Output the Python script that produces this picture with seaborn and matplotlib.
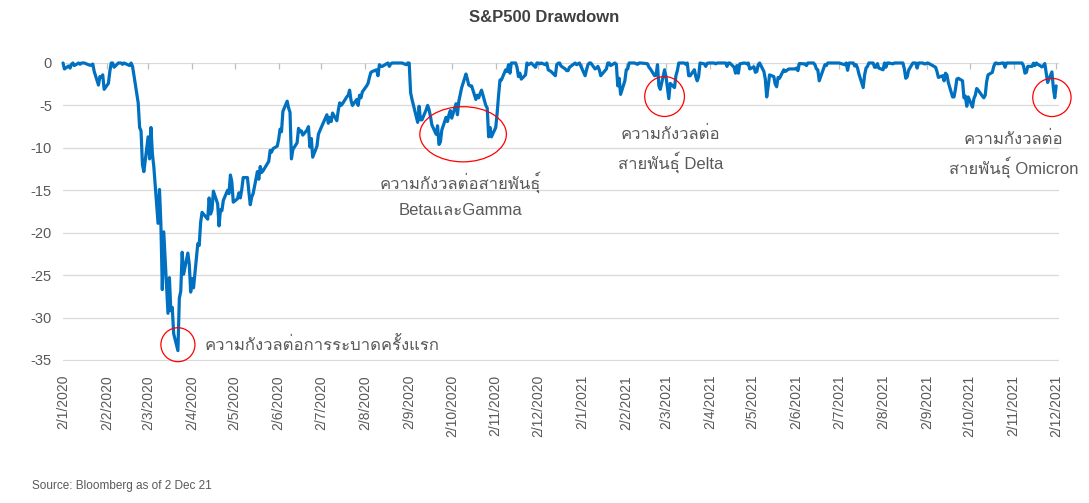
import numpy as np
import pandas as pd
import matplotlib
matplotlib.use("Agg")
import matplotlib.pyplot as plt
import matplotlib.dates as mdates
import seaborn as sns
from matplotlib.patches import Ellipse
from matplotlib import font_manager as fm
from matplotlib.ft2font import FT2Font

# ---------------- data (S&P500 drawdown from previous high, %) ----------------
dates_2020 = [
    "2020-01-02", "2020-01-03", "2020-01-06", "2020-01-07", "2020-01-08", "2020-01-09", "2020-01-10",
    "2020-01-13", "2020-01-14", "2020-01-15", "2020-01-16", "2020-01-17", "2020-01-21", "2020-01-22",
    "2020-01-23", "2020-01-24", "2020-01-27", "2020-01-28", "2020-01-29", "2020-01-30", "2020-01-31",
    "2020-02-03", "2020-02-04", "2020-02-05", "2020-02-06", "2020-02-07", "2020-02-10", "2020-02-11",
    "2020-02-12", "2020-02-13", "2020-02-14", "2020-02-18", "2020-02-19", "2020-02-20", "2020-02-21",
    "2020-02-24", "2020-02-25", "2020-02-26", "2020-02-27", "2020-02-28", "2020-03-02", "2020-03-03",
    "2020-03-04", "2020-03-05", "2020-03-06", "2020-03-09", "2020-03-10", "2020-03-11", "2020-03-12",
    "2020-03-13", "2020-03-16", "2020-03-17", "2020-03-18", "2020-03-19", "2020-03-20", "2020-03-23",
    "2020-03-24", "2020-03-25", "2020-03-26", "2020-03-27", "2020-03-30", "2020-03-31", "2020-04-01",
    "2020-04-02", "2020-04-03", "2020-04-06", "2020-04-07", "2020-04-08", "2020-04-09", "2020-04-13",
    "2020-04-14", "2020-04-15", "2020-04-16", "2020-04-17", "2020-04-20", "2020-04-21", "2020-04-22",
    "2020-04-23", "2020-04-24", "2020-04-27", "2020-04-28", "2020-04-29", "2020-04-30", "2020-05-01",
    "2020-05-04", "2020-05-05", "2020-05-06", "2020-05-07", "2020-05-08", "2020-05-11", "2020-05-12",
    "2020-05-13", "2020-05-14", "2020-05-15", "2020-05-18", "2020-05-19", "2020-05-20", "2020-05-21",
    "2020-05-22", "2020-05-26", "2020-05-27", "2020-05-28", "2020-05-29", "2020-06-01", "2020-06-02",
    "2020-06-03", "2020-06-04", "2020-06-05", "2020-06-08", "2020-06-09", "2020-06-10", "2020-06-11",
    "2020-06-12", "2020-06-15", "2020-06-16", "2020-06-17", "2020-06-18", "2020-06-19", "2020-06-22",
    "2020-06-23", "2020-06-24", "2020-06-25", "2020-06-26", "2020-06-29", "2020-06-30", "2020-07-01",
    "2020-07-02", "2020-07-06", "2020-07-07", "2020-07-08", "2020-07-09", "2020-07-10", "2020-07-13",
    "2020-07-14", "2020-07-15", "2020-07-16", "2020-07-17", "2020-07-20", "2020-07-21", "2020-07-22",
    "2020-07-23", "2020-07-24", "2020-07-27", "2020-07-28", "2020-07-29", "2020-07-30", "2020-07-31",
    "2020-08-03", "2020-08-04", "2020-08-05", "2020-08-06", "2020-08-07", "2020-08-10", "2020-08-11",
    "2020-08-12", "2020-08-13", "2020-08-14", "2020-08-17", "2020-08-18", "2020-08-19", "2020-08-20",
    "2020-08-21", "2020-08-24", "2020-08-28", "2020-08-31", "2020-09-01", "2020-09-02", "2020-09-03",
    "2020-09-04", "2020-09-08", "2020-09-09", "2020-09-10", "2020-09-11", "2020-09-14", "2020-09-15",
    "2020-09-16", "2020-09-17", "2020-09-18", "2020-09-21", "2020-09-22", "2020-09-23", "2020-09-24",
    "2020-09-25", "2020-09-28", "2020-09-29", "2020-09-30", "2020-10-01", "2020-10-02", "2020-10-05",
    "2020-10-06", "2020-10-07", "2020-10-08", "2020-10-09", "2020-10-12", "2020-10-13", "2020-10-14",
    "2020-10-15", "2020-10-16", "2020-10-19", "2020-10-20", "2020-10-21", "2020-10-22", "2020-10-23",
    "2020-10-26", "2020-10-27", "2020-10-28", "2020-10-29", "2020-10-30", "2020-11-02", "2020-11-03",
    "2020-11-04", "2020-11-05", "2020-11-06", "2020-11-09", "2020-11-10", "2020-11-11", "2020-11-12",
    "2020-11-13", "2020-11-16", "2020-11-17", "2020-11-18", "2020-11-19", "2020-11-20", "2020-11-23",
    "2020-11-24", "2020-11-25", "2020-11-27", "2020-11-30", "2020-12-01", "2020-12-02", "2020-12-03",
    "2020-12-04", "2020-12-07", "2020-12-08", "2020-12-09", "2020-12-10", "2020-12-11", "2020-12-14",
    "2020-12-15", "2020-12-16", "2020-12-17", "2020-12-18", "2020-12-21", "2020-12-22", "2020-12-23",
    "2020-12-24", "2020-12-28", "2020-12-29", "2020-12-30", "2020-12-31",
]
drawdown_2020 = [
    0, -0.7, -0.35, -0.6, -0.15, 0, -0.3,
    0, -0.15, 0, 0, 0, -0.27, -0.24,
    -0.12, -1.0, -2.6, -1.6, -1.7, -1.4, -3.1,
    -2.4, -1.0, 0, 0, -0.5, 0, 0,
    0, -0.16, 0, -0.3, 0, -0.4, -1.45,
    -4.7, -7.6, -8.0, -12.0, -12.8, -8.7, -11.3,
    -7.6, -10.7, -12.2, -18.9, -14.9, -19.0, -26.7,
    -19.9, -29.5, -25.3, -29.2, -28.8, -31.9, -33.9,
    -27.7, -26.9, -22.3, -24.9, -22.4, -23.7, -27.0,
    -25.4, -26.5, -21.3, -21.5, -18.8, -17.6, -18.4,
    -15.9, -17.8, -17.3, -15.1, -16.6, -19.2, -17.3,
    -17.4, -16.2, -15.0, -15.4, -13.2, -14.0, -16.4,
    -16.0, -15.3, -15.9, -14.9, -13.5, -13.5, -15.2,
    -16.7, -15.8, -15.4, -12.8, -13.7, -12.2, -12.9,
    -12.7, -11.6, -10.3, -10.5, -10.1, -9.8, -9.0,
    -7.8, -8.1, -5.7, -4.5, -5.3, -5.8, -11.3,
    -10.2, -9.4, -7.7, -8.1, -8.0, -8.5, -7.9,
    -7.5, -9.9, -8.9, -11.1, -9.8, -8.4, -8.0,
    -7.6, -6.1, -7.1, -6.4, -6.9, -5.9, -6.8,
    -5.6, -4.7, -5.0, -4.8, -4.0, -3.8, -3.2,
    -4.4, -5.0, -4.3, -5.0, -3.8, -4.1, -3.4,
    -2.7, -2.4, -1.7, -1.1, -1.0, -0.8, -1.5,
    -0.2, -0.4, -0.4, -0.1, 0, -0.4, -0.1,
    0, 0, 0, -0.2, 0, 0, -3.5,
    -4.3, -7.0, -5.1, -6.7, -6.7, -5.5, -5.0,
    -5.5, -6.3, -7.3, -8.4, -7.4, -9.6, -9.3,
    -7.9, -6.4, -6.9, -6.1, -5.6, -6.5, -4.8,
    -6.1, -4.5, -3.7, -2.9, -1.3, -1.9, -2.6,
    -2.7, -2.7, -4.3, -3.8, -4.1, -3.6, -3.2,
    -5.0, -5.3, -8.7, -7.6, -8.7, -7.6, -5.9,
    -3.8, -2.0, -2.0, -0.8, -1.0, -0.2, -1.2,
    0, 0, -0.5, -1.6, -1.2, -1.9, -1.4,
    0, -0.2, 0, -0.5, 0, 0, -0.1,
    0, -0.2, 0, -0.8, -0.9, -1.0, -1.5,
    -0.2, -0.03, 0, -0.35, -0.7, -0.9, -0.9,
    -0.5, 0, -0.2, -0.1, 0,
]

dates_2021 = [
    "2021-01-04", "2021-01-05", "2021-01-06", "2021-01-07", "2021-01-08", "2021-01-11", "2021-01-12",
    "2021-01-13", "2021-01-14", "2021-01-15", "2021-01-19", "2021-01-20", "2021-01-21", "2021-01-22",
    "2021-01-25", "2021-01-26", "2021-01-27", "2021-01-28", "2021-01-29", "2021-02-01", "2021-02-02",
    "2021-02-03", "2021-02-04", "2021-02-05", "2021-02-08", "2021-02-09", "2021-02-10", "2021-02-11",
    "2021-02-12", "2021-02-16", "2021-02-17", "2021-02-18", "2021-02-19", "2021-02-22", "2021-02-23",
    "2021-02-24", "2021-02-25", "2021-02-26", "2021-03-01", "2021-03-02", "2021-03-03", "2021-03-04",
    "2021-03-05", "2021-03-08", "2021-03-09", "2021-03-10", "2021-03-11", "2021-03-12", "2021-03-15",
    "2021-03-16", "2021-03-17", "2021-03-18", "2021-03-19", "2021-03-22", "2021-03-23", "2021-03-24",
    "2021-03-25", "2021-03-26", "2021-03-29", "2021-03-30", "2021-03-31", "2021-04-01", "2021-04-05",
    "2021-04-06", "2021-04-07", "2021-04-13", "2021-04-14", "2021-04-15", "2021-04-16", "2021-04-19",
    "2021-04-20", "2021-04-21", "2021-04-22", "2021-04-23", "2021-04-26", "2021-04-27", "2021-04-28",
    "2021-04-29", "2021-04-30", "2021-05-03", "2021-05-04", "2021-05-05", "2021-05-06", "2021-05-07",
    "2021-05-10", "2021-05-11", "2021-05-12", "2021-05-13", "2021-05-14", "2021-05-17", "2021-05-18",
    "2021-05-19", "2021-05-20", "2021-05-21", "2021-05-24", "2021-05-25", "2021-05-26", "2021-05-27",
    "2021-05-28", "2021-06-01", "2021-06-02", "2021-06-03", "2021-06-04", "2021-06-07", "2021-06-08",
    "2021-06-09", "2021-06-10", "2021-06-14", "2021-06-15", "2021-06-16", "2021-06-17", "2021-06-18",
    "2021-06-21", "2021-06-22", "2021-06-23", "2021-06-24", "2021-07-02", "2021-07-06", "2021-07-07",
    "2021-07-08", "2021-07-09", "2021-07-12", "2021-07-13", "2021-07-14", "2021-07-15", "2021-07-16",
    "2021-07-19", "2021-07-20", "2021-07-21", "2021-07-22", "2021-07-23", "2021-07-26", "2021-07-27",
    "2021-07-28", "2021-07-29", "2021-07-30", "2021-08-02", "2021-08-03", "2021-08-04", "2021-08-05",
    "2021-08-06", "2021-08-09", "2021-08-10", "2021-08-16", "2021-08-17", "2021-08-18", "2021-08-19",
    "2021-08-20", "2021-08-23", "2021-08-25", "2021-08-26", "2021-08-27", "2021-08-30", "2021-08-31",
    "2021-09-01", "2021-09-02", "2021-09-03", "2021-09-07", "2021-09-08", "2021-09-09", "2021-09-10",
    "2021-09-13", "2021-09-14", "2021-09-15", "2021-09-16", "2021-09-17", "2021-09-20", "2021-09-21",
    "2021-09-22", "2021-09-23", "2021-09-24", "2021-09-27", "2021-09-28", "2021-09-29", "2021-09-30",
    "2021-10-01", "2021-10-04", "2021-10-05", "2021-10-06", "2021-10-07", "2021-10-08", "2021-10-11",
    "2021-10-12", "2021-10-13", "2021-10-14", "2021-10-15", "2021-10-18", "2021-10-19", "2021-10-20",
    "2021-10-21", "2021-10-22", "2021-10-25", "2021-10-26", "2021-10-27", "2021-10-28", "2021-11-08",
    "2021-11-09", "2021-11-10", "2021-11-11", "2021-11-12", "2021-11-15", "2021-11-16", "2021-11-17",
    "2021-11-18", "2021-11-19", "2021-11-22", "2021-11-23", "2021-11-24", "2021-11-26", "2021-11-29",
    "2021-11-30", "2021-12-01", "2021-12-02",
]
drawdown_2021 = [
    -1.5, -0.8, -0.2, 0, 0, -0.7, -0.6,
    -0.4, -0.8, -1.5, -0.7, 0, 0, -0.3,
    0, -0.15, -2.7, -1.8, -3.7, -2.1, -0.8,
    -0.7, 0, 0, 0, -0.1, -0.15, 0,
    0, -0.06, -0.1, -0.5, -0.7, -1.5, -1.4,
    -0.2, -2.7, -3.1, -0.8, -1.6, -2.9, -4.2,
    -2.4, -2.9, -1.5, -0.9, 0, 0, 0,
    -0.16, 0, -1.5, -1.5, -0.8, -1.6, -2.1,
    -1.6, 0, -0.1, -0.4, -0.04, 0, 0,
    -0.1, 0, 0, -0.4, 0, 0, -0.5,
    -1.2, -0.3, -1.2, -0.1, 0, -0.02, -0.1,
    0, -0.7, -0.45, -1.1, -1.0, -0.2, 0,
    -1.0, -1.9, -4.0, -2.8, -1.4, -1.6, -2.5,
    -2.8, -1.7, -1.8, -0.8, -1.0, -0.9, -0.75,
    -0.7, -0.7, -0.6, -0.9, -0.06, -0.1, -0.1,
    -0.3, 0, 0, -0.2, -0.7, -0.8, -2.1,
    -0.7, -0.2, -0.3, 0, 0, -0.2, 0,
    -0.86, 0, 0, -0.35, -0.2, -0.6, -1.3,
    -2.9, -1.4, -0.6, -0.4, 0, 0, -0.5,
    -0.5, -0.07, -0.6, -0.8, 0, -0.5, 0,
    0, -0.1, 0, 0, -0.7, -1.8, -1.65,
    -0.85, 0, 0, -0.6, 0, 0, -0.1,
    -0.1, 0, -0.03, -0.4, -0.5, -1.0, -1.7,
    -1.5, -2.1, -1.2, -1.4, -2.3, -4.0, -4.0,
    -3.1, -1.9, -1.8, -2.1, -4.1, -3.9, -5.1,
    -4.0, -5.2, -4.2, -3.8, -3.0, -3.2, -3.9,
    -4.1, -3.8, -2.2, -1.4, -1.1, -0.4, -0.02,
    0, -0.1, 0, 0, -0.5, 0, 0,
    -0.35, -1.2, -1.1, -0.4, -0.4, -0.02, -0.3,
    0, -0.14, -0.46, -0.3, -0.07, -2.3, -1.05,
    -2.9, -4.1, -2.7,
]

y_ticks = [0, -5, -10, -15, -20, -25, -30, -35]
title_text = "S&P500 Drawdown"
source_text = "Source: Bloomberg as of 2 Dec 21"
notes = {
    "covid": ["ความกังวลต่อการระบาดครั้งแรก"],
    "beta": ["ความกังวลต่อสายพันธุ์", "BetaและGamma"],
    "delta": ["ความกังวลต่อ", "สายพันธุ์ Delta"],
    "omicron": ["ความกังวลต่อ", "สายพันธุ์ Omicron"],
}

# ---------------- styling ----------------
sns.set_theme(style="white")


def find_family(ch):
    for f in fm.fontManager.ttflist:
        try:
            if ord(ch) in FT2Font(f.fname).get_charmap():
                return f.name
        except Exception:
            continue
    return None


thai = find_family("ก")
families = ["Liberation Sans"] + ([thai] if thai else []) + ["DejaVu Sans"]
plt.rcParams["font.family"] = families

GREY = "#595959"
GRID = "#d9d9d9"
BLUE = "#0070C0"
RED = "#FF0000"

df = pd.DataFrame({
    "date": pd.to_datetime(dates_2020 + dates_2021),
    "drawdown": drawdown_2020 + drawdown_2021,
})

W, H = 1089, 503
fig = plt.figure(figsize=(W / 100, H / 100), dpi=100)
ax = fig.add_axes([63 / W, 142 / H, 996 / W, 298 / H])

# month ticks (day 2 of each month)
months = pd.date_range("2020-01-01", "2021-12-01", freq="MS") + pd.Timedelta(days=1)

ax.vlines(months, -0.75, 0, color="#bfbfbf", lw=0.9, zorder=1)

sns.lineplot(data=df, x="date", y="drawdown", ax=ax, color=BLUE, lw=2.3,
             estimator=None, clip_on=False, zorder=3)

ax.set_xlim(pd.Timestamp("2020-01-02"), pd.Timestamp("2021-12-04"))
ax.set_ylim(-35.12, 0)
ax.set_yticks(y_ticks)
ax.set_yticklabels([str(v) for v in y_ticks])
ax.set_xticks(months)
ax.set_xticklabels([f"{d.day}/{d.month}/{d.year}" for d in months], rotation=90)
ax.yaxis.grid(True, color=GRID, lw=0.9, zorder=0)
ax.xaxis.grid(False)
for s in ax.spines.values():
    s.set_visible(False)
ax.tick_params(axis="y", length=0, pad=8, labelsize=10.5, labelcolor=GREY)
ax.tick_params(axis="x", length=0, pad=10, labelsize=10, labelcolor=GREY)
ax.set_xlabel("")
ax.set_ylabel("")

# ---------------- annotations ----------------
def dn(s):
    return mdates.date2num(pd.Timestamp(s))


def ring(center_date, y, w_days, h_units):
    ax.add_patch(Ellipse((dn(center_date), y), w_days, h_units, fill=False,
                         ec=RED, lw=0.9, clip_on=False, zorder=4))


ring("2020-03-23", -33.2, 24, 4.0)
ring("2020-10-10", -8.4, 61, 6.5)
ring("2021-03-01", -3.95, 28, 4.7)
ring("2021-11-29", -4.06, 27, 4.5)

tkw = dict(color=GREY, fontsize=12, va="center", zorder=5)
ax.text(dn("2020-04-11"), -33.2, notes["covid"][0], ha="left", **tkw)
ax.text(dn("2020-10-08"), -14.1, notes["beta"][0], ha="center", **tkw)
ax.text(dn("2020-10-08"), -17.4, notes["beta"][1], ha="center", **tkw)
ax.text(dn("2021-03-05"), -8.4, notes["delta"][0], ha="center", **tkw)
ax.text(dn("2021-03-05"), -11.7, notes["delta"][1], ha="center", **tkw)
ax.text(dn("2021-11-02"), -9.0, notes["omicron"][0], ha="center", **tkw)
ax.text(dn("2021-11-02"), -12.3, notes["omicron"][1], ha="center", **tkw)

fig.text(0.5, 1 - 17 / H, title_text, ha="center", va="center", fontsize=12,
         fontweight="bold", color="#404040")
fig.text(32 / W, 1 - 486 / H, source_text, ha="left", va="center", fontsize=8.5,
         color=GREY)

fig.savefig("out.png", dpi=100)
